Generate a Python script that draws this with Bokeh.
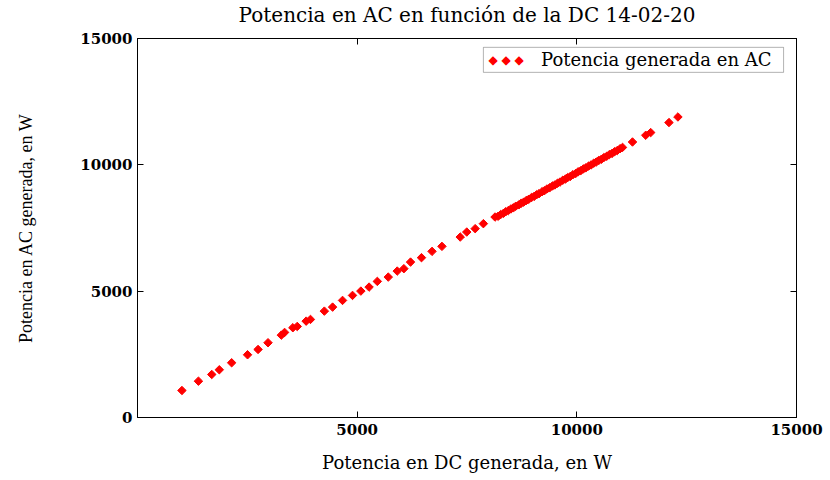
from bokeh.plotting import figure
from bokeh.models import (Range1d, FixedTicker, LinearAxis, BoxAnnotation, Label,
                          CustomLabelingPolicy)
from bokeh.embed import file_html
from bokeh.resources import INLINE

# ---- data ----
dc_power = [1011, 1387, 1690, 1862, 2143, 2505, 2744, 2971, 3274, 3348, 3536, 3636,
            3839, 3937, 4253, 4441, 4667, 4894, 5084, 5271, 5459, 5708, 5912, 6063,
            6215, 6464, 6704, 6930, 7346, 7495, 7686, 7873, 8138,
            8210, 8265, 8330, 8380, 8440, 8500, 8555, 8610, 8680, 8735, 8790, 8850,
            8905, 8970, 9030, 9085, 9140, 9210, 9260, 9320, 9380, 9445, 9500, 9560,
            9615, 9680, 9740, 9790, 9850, 9910, 9975, 10030, 10090, 10150, 10205,
            10270, 10325, 10385, 10440, 10500, 10560, 10615, 10680, 10740, 10800,
            10860, 10920, 10985, 11040,
            11267, 11568, 11681, 12097, 12301]
ac_power = [1069, 1438, 1703, 1889, 2166, 2483, 2693, 2959, 3260, 3367, 3553, 3604,
            3814, 3882, 4210, 4369, 4634, 4832, 5003, 5161, 5387, 5557, 5795, 5890,
            6151, 6326, 6575, 6773, 7142, 7340, 7474, 7672, 7934,
            7965, 8030, 8080, 8142, 8188, 8255, 8298, 8362, 8418, 8483, 8524, 8590,
            8636, 8708, 8752, 8818, 8860, 8938, 8975, 9044, 9090, 9163, 9204, 9272,
            9316, 9390, 9435, 9494, 9540, 9610, 9660, 9725, 9770, 9840, 9882,
            9955, 9996, 10066, 10108, 10176, 10222, 10286, 10338, 10405, 10452,
            10520, 10566, 10640, 10690,
            10904, 11170, 11277, 11673, 11894]

x_ticks = [5000, 10000, 15000]
y_ticks = [0, 5000, 10000, 15000]

title_text = "Potencia en AC en función de la DC 14-02-20"
x_label = "Potencia en DC generada, en W"
y_label = "Potencia en AC generada, en W"
legend_text = "Potencia generada en AC"

SERIF = "DejaVu Serif"

p = figure(width=830, height=480, output_backend="svg", toolbar_location=None,
           x_range=Range1d(0, 15000), y_range=Range1d(0, 15000),
           min_border_left=137, min_border_right=29, min_border_top=38,
           min_border_bottom=63, title=title_text)

p.title.text_font = SERIF
p.title.text_font_size = "20px"
p.title.text_font_style = "normal"
p.title.align = "center"
p.title.standoff = 1
p.title.text_color = "black"

p.xgrid.visible = False
p.ygrid.visible = False
p.outline_line_color = "black"
p.background_fill_color = "white"
p.border_fill_color = "white"

for ax, ticks in ((p.xaxis[0], x_ticks), (p.yaxis[0], y_ticks)):
    ax.ticker = FixedTicker(ticks=ticks, minor_ticks=[])
    ax.major_tick_in = 6
    ax.major_tick_out = 0
    ax.minor_tick_in = 0
    ax.minor_tick_out = 0
    ax.axis_line_color = "black"
    ax.major_tick_line_color = "black"
    ax.major_label_text_font = SERIF
    ax.major_label_text_font_style = "bold"
    ax.major_label_text_font_size = "15px"
    ax.major_label_text_color = "black"
    ax.axis_label_text_font = SERIF
    ax.axis_label_text_font_style = "normal"
    ax.axis_label_text_color = "black"

p.xaxis[0].axis_label = x_label
p.xaxis[0].axis_label_text_font_size = "18px"
p.xaxis[0].major_label_standoff = 6
p.xaxis[0].axis_label_standoff = 14

p.yaxis[0].axis_label = y_label
p.yaxis[0].axis_label_text_font = "Liberation Serif"
p.yaxis[0].axis_label_text_font_size = "18px"
p.yaxis[0].major_label_standoff = 5
p.yaxis[0].axis_label_standoff = 41

# mirror axes (ticks only, no labels)
hide_all = CustomLabelingPolicy(code="for (const i of indices) { indices.unset(i) }\nreturn indices")
for loc, ticks in (("above", x_ticks), ("right", y_ticks)):
    ax = LinearAxis(ticker=FixedTicker(ticks=ticks, minor_ticks=[]),
                    major_label_policy=hide_all)
    ax.major_tick_in = 6
    ax.major_tick_out = 0
    ax.minor_tick_in = 0
    ax.minor_tick_out = 0
    ax.major_label_standoff = 0
    ax.axis_line_color = "black"
    ax.major_tick_line_color = "black"
    p.add_layout(ax, loc)

# data
p.scatter(dc_power, ac_power, marker="square", size=6, angle=0.785398,
          fill_color="red", line_color="red", line_width=1)

# legend (drawn manually so that it shows three markers like the original)
box = BoxAnnotation(left=7873, right=14706, top=14650, bottom=13660,
                    fill_color="white", fill_alpha=1.0, line_color="black",
                    line_width=1)
p.add_layout(box)
p.add_layout(Label(x=7990, y=14155, text="\u25c6 \u25c6 \u25c6", text_color="red",
                   text_font="DejaVu Sans", text_font_size="12px",
                   text_baseline="middle", text_align="left"))
p.add_layout(Label(x=9186, y=14155, text=legend_text, text_color="black",
                   text_font=SERIF, text_font_size="18px",
                   text_baseline="middle", text_align="left"))

open("out.html", "w").write(file_html(p, INLINE))
